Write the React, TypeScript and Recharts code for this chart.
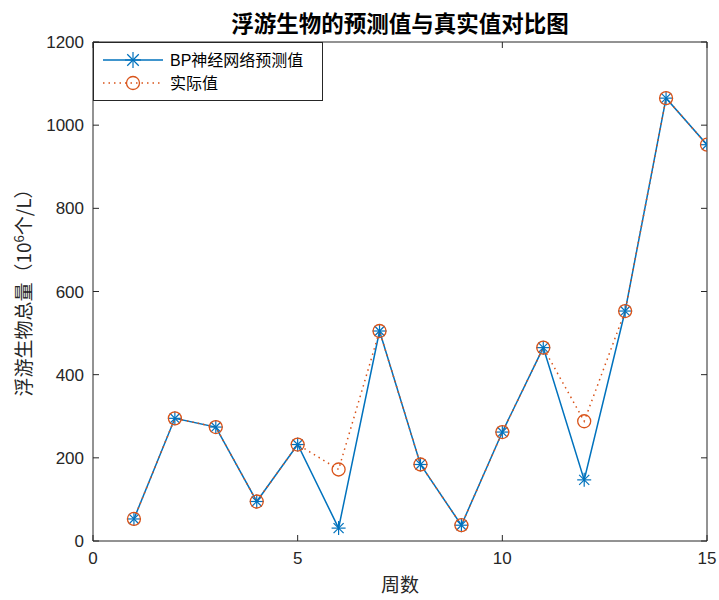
import React from 'react';
import { LineChart, Line, XAxis, YAxis } from 'recharts';

const weeks = [1, 2, 3, 4, 5, 6, 7, 8, 9, 10, 11, 12, 13, 14, 15];
const predicted = [53, 295, 274, 95, 232, 31, 505, 184, 38, 262, 465, 147, 553, 1065, 953];
const actual = [53, 295, 274, 95, 232, 172, 505, 184, 38, 262, 465, 288, 553, 1065, 953];
const xTicks = [0, 5, 10, 15];
const yTicks = [0, 200, 400, 600, 800, 1000, 1200];

const titleText = '浮游生物的预测值与真实值对比图';
const xLabel = '周数';
const yLabelMain = '浮游生物总量（10';
const yLabelSup = '6';
const yLabelTail = '个/L）';
const predName = 'BP神经网络预测值';
const actualName = '实际值';

const data = weeks.map((w, i) => ({ week: w, pred: predicted[i], actual: actual[i] }));

const BLUE = '#0072BD';
const ORANGE = '#D95319';
const AXIS = '#262626';
const FONT = '"Liberation Sans", Arial, "Noto Sans CJK SC", sans-serif';
const CJK = '"Noto Sans CJK SC", "Liberation Sans", sans-serif';
const TICK_FS = 17;

const Star = (props: any) => {
  const { cx, cy, size = 7 } = props;
  if (cx == null || cy == null) return null;
  const r = size;
  const d = r * 0.72;
  return (
    <g stroke={BLUE} strokeWidth={1.2} fill="none">
      <line x1={cx - r} y1={cy} x2={cx + r} y2={cy} />
      <line x1={cx} y1={cy - r} x2={cx} y2={cy + r} />
      <line x1={cx - d} y1={cy - d} x2={cx + d} y2={cy + d} />
      <line x1={cx - d} y1={cy + d} x2={cx + d} y2={cy - d} />
    </g>
  );
};

const Ring = (props: any) => {
  const { cx, cy } = props;
  if (cx == null || cy == null) return null;
  return <circle cx={cx} cy={cy} r={6.5} stroke={ORANGE} strokeWidth={1.3} fill="none" />;
};

const BottomTick = (props: any) => {
  const { x, y, payload } = props;
  return (
    <g>
      <line x1={x} y1={y} x2={x} y2={y - 6} stroke={AXIS} strokeWidth={1} />
      <text x={x} y={y + 23} textAnchor="middle" fontSize={TICK_FS} fill={AXIS} fontFamily={FONT}>
        {payload.value}
      </text>
    </g>
  );
};

const TopTick = (props: any) => {
  const { x, y } = props;
  return <line x1={x} y1={y} x2={x} y2={y + 6} stroke={AXIS} strokeWidth={1} />;
};

const LeftTick = (props: any) => {
  const { x, y, payload } = props;
  return (
    <g>
      <line x1={x} y1={y} x2={x + 6} y2={y} stroke={AXIS} strokeWidth={1} />
      <text x={x - 9} y={y + 6} textAnchor="end" fontSize={TICK_FS} fill={AXIS} fontFamily={FONT}>
        {payload.value}
      </text>
    </g>
  );
};

const RightTick = (props: any) => {
  const { x, y } = props;
  return <line x1={x} y1={y} x2={x - 6} y2={y} stroke={AXIS} strokeWidth={1} />;
};

const LegendBox = () => (
  <svg width={230} height={59} style={{ display: 'block' }}>
    <rect x={0.5} y={0.5} width={229} height={58} fill="#fff" stroke={AXIS} strokeWidth={1} />
    <line x1={10} y1={18} x2={70} y2={18} stroke={BLUE} strokeWidth={1.5} />
    <Star cx={40} cy={18} size={8} />
    <text x={77} y={24} fontSize={16} fill="#000" fontFamily={FONT}>{predName}</text>
    <line x1={10} y1={41} x2={70} y2={41} stroke={ORANGE} strokeWidth={1.5} strokeDasharray="1.5 4" />
    <Ring cx={40} cy={41} />
    <text x={77} y={47} fontSize={16} fill="#000" fontFamily={FONT}>{actualName}</text>
  </svg>
);

export default function App() {
  return (
    <div style={{ position: 'absolute', left: 0, top: 0, width: 719, height: 600, background: '#fff' }}>
      <LineChart
        width={719}
        height={600}
        data={data}
        margin={{ top: 0, right: 0, bottom: 0, left: 0 }}
      >
        <XAxis
          dataKey="week"
          type="number"
          domain={[0, 15]}
          ticks={xTicks}
          height={59}
          tickSize={0}
          tickMargin={0}
          tick={<BottomTick />}
          tickLine={false}
          stroke={AXIS}
          allowDataOverflow
        />
        <XAxis
          xAxisId="top"
          orientation="top"
          dataKey="week"
          type="number"
          domain={[0, 15]}
          ticks={xTicks}
          height={42}
          tickSize={0}
          tickMargin={0}
          tick={<TopTick />}
          tickLine={false}
          stroke={AXIS}
          allowDataOverflow
        />
        <YAxis
          type="number"
          domain={[0, 1200]}
          ticks={yTicks}
          width={93}
          tickSize={0}
          tickMargin={0}
          tick={<LeftTick />}
          tickLine={false}
          stroke={AXIS}
          allowDataOverflow
        />
        <YAxis
          yAxisId="right"
          orientation="right"
          type="number"
          domain={[0, 1200]}
          ticks={yTicks}
          width={12}
          tickSize={0}
          tickMargin={0}
          tick={<RightTick />}
          tickLine={false}
          stroke={AXIS}
          allowDataOverflow
        />
        <Line
          type="linear"
          dataKey="pred"
          name={predName}
          stroke={BLUE}
          strokeWidth={1.5}
          dot={<Star />}
          activeDot={false}
          isAnimationActive={false}
        />
        <Line
          type="linear"
          dataKey="actual"
          name={actualName}
          stroke={ORANGE}
          strokeWidth={1.5}
          strokeDasharray="1.5 4"
          dot={<Ring />}
          activeDot={false}
          isAnimationActive={false}
        />
      </LineChart>
      <svg
        width={719}
        height={600}
        style={{ position: 'absolute', left: 0, top: 0, pointerEvents: 'none' }}
      >
        <text x={400} y={32} textAnchor="middle" fontSize={22.5} fontWeight="bold" fill="#000" fontFamily={CJK}>
          {titleText}
        </text>
        <text x={400} y={592} textAnchor="middle" fontSize={19} fill={AXIS} fontFamily={CJK}>
          {xLabel}
        </text>
        <text
          transform="translate(31, 288) rotate(-90)"
          textAnchor="middle"
          fontSize={19}
          fill={AXIS}
          fontFamily={CJK}
        >
          {yLabelMain}
          <tspan dy={-7} fontSize={13}>{yLabelSup}</tspan>
          <tspan dy={7}>{yLabelTail}</tspan>
        </text>
      </svg>
      <div style={{ position: 'absolute', left: 93, top: 42 }}>
        <LegendBox />
      </div>
    </div>
  );
}
